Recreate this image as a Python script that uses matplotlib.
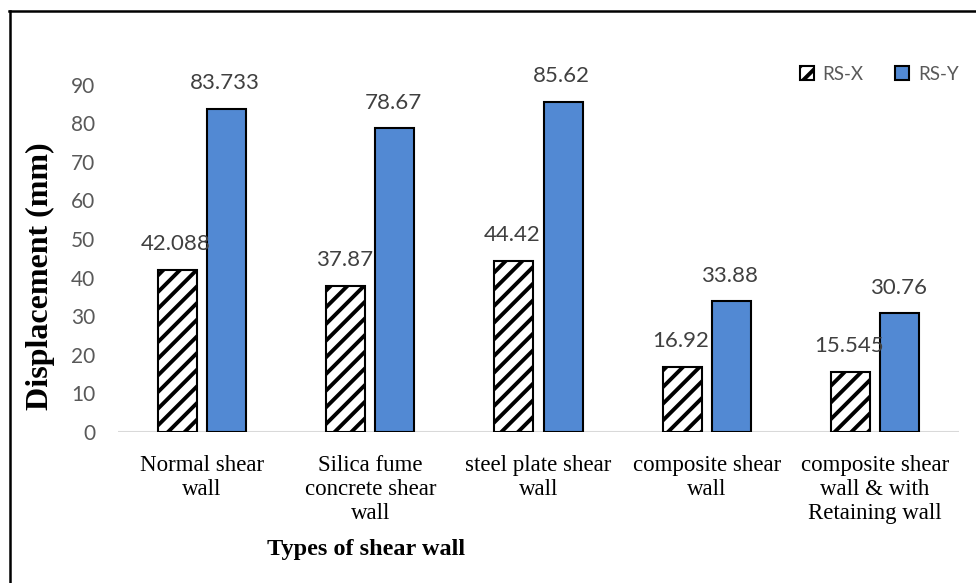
import matplotlib
matplotlib.use("Agg")
import matplotlib.pyplot as plt
import numpy as np
from matplotlib.lines import Line2D

categories = [
    "Normal shear\nwall",
    "Silica fume\nconcrete shear\nwall",
    "steel plate shear\nwall",
    "composite shear\nwall",
    "composite shear\nwall & with\nRetaining wall",
]
rs_x = [42.088, 37.87, 44.42, 16.92, 15.545]
rs_y = [83.733, 78.67, 85.62, 33.88, 30.76]
rs_x_labels = ["42.088", "37.87", "44.42", "16.92", "15.545"]
rs_y_labels = ["83.733", "78.67", "85.62", "33.88", "30.76"]
yticks = list(range(0, 100, 10))

W, H = 976, 583
plt.rcParams["hatch.linewidth"] = 2.8

fig = plt.figure(figsize=(W / 100, H / 100), dpi=100)
ax = fig.add_axes([118 / W, 151 / H, (959 - 118) / W, (537 - 151) / H])

x = np.arange(len(categories))
bw = 0.232
off = 0.146
blue = "#5289D3"

bx = ax.bar(x - off, rs_x, bw, color="white", edgecolor="black",
            hatch="//", linewidth=1.5, label="RS-X", zorder=3)
by = ax.bar(x + off, rs_y, bw, color=blue, edgecolor="black",
            linewidth=1.5, label="RS-Y", zorder=3)

lab_kw = dict(textcoords="offset points", ha="center", va="center",
              fontsize=16, color="#404040", family="Lato")
for xi, v, t in zip(x - off, rs_x, rs_x_labels):
    ax.annotate(t, (xi, v), xytext=(-1, 18.5), **lab_kw)
for xi, v, t in zip(x + off, rs_y, rs_y_labels):
    ax.annotate(t, (xi, v), xytext=(-1, 18.5), **lab_kw)

ax.set_xlim(-0.5, len(categories) - 0.5)
ax.set_ylim(0, 100)
ax.set_yticks(yticks)
ax.set_yticklabels([str(t) for t in yticks], family="Lato", fontsize=15,
                   color="#595959")
ax.set_xticks(x)
ax.set_xticklabels(categories, family="Liberation Serif", fontsize=16.5,
                   color="black", linespacing=1.2)
ax.tick_params(axis="y", length=0, pad=16.5)
ax.tick_params(axis="x", length=0, pad=16.5)

for s in ax.spines.values():
    s.set_visible(False)
ax.axhline(0, color="#D9D9D9", linewidth=1.5, zorder=2)

fig.text(366 / W, 1 - 550 / H, "Types of shear wall", family="Liberation Serif",
         fontweight="bold", fontsize=17.5, ha="center", va="center")
fig.text(40 / W, 1 - 276 / H, "Displacement (mm)", family="Liberation Serif",
         fontweight="bold", fontsize=23, ha="center", va="center", rotation=90)

ax.legend(loc="center left", bbox_to_anchor=(800 / W, 1 - 74 / H),
          bbox_transform=fig.transFigure, ncol=2, frameon=False,
          borderpad=0, borderaxespad=0, handlelength=0.75, handleheight=0.75,
          handletextpad=0.45, columnspacing=1.7,
          prop={"family": "Lato", "size": 13.5}, labelcolor="#595959")

# outer frame (top and left edges)
fig.add_artist(Line2D([10 / W, 10 / W], [0, 1 - 10.5 / H], transform=fig.transFigure,
                      color="black", linewidth=1.8))
fig.add_artist(Line2D([9 / W, 1], [1 - 10.5 / H, 1 - 10.5 / H], transform=fig.transFigure,
                      color="black", linewidth=1.8))

fig.savefig("out.png", dpi=100)
